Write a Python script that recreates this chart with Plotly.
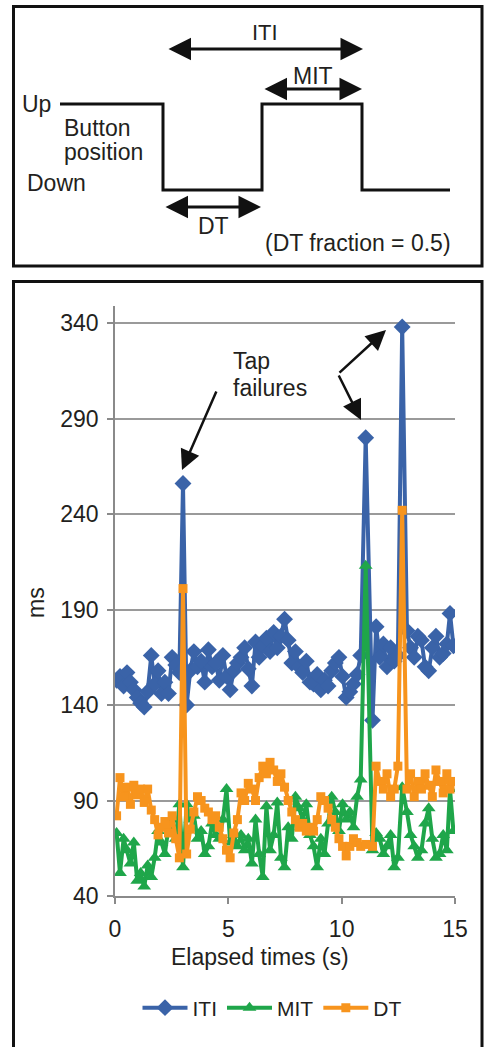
import plotly.graph_objects as go

# ---------------- data ----------------
time_s = [0.07, 0.22, 0.38, 0.53, 0.68, 0.83, 0.98, 1.13, 1.29, 1.44, 1.60, 1.75, 1.90, 2.05, 2.20, 2.36, 2.52, 2.68, 2.84,
          3.00,
          3.16, 3.32, 3.48, 3.64, 3.80, 3.96, 4.12, 4.28, 4.44, 4.60, 4.76, 4.92, 5.08, 5.24, 5.40, 5.56, 5.72, 5.88, 6.04, 6.20,
          6.36, 6.52, 6.68, 6.84, 7.00, 7.16, 7.32, 7.48, 7.64, 7.80, 7.96, 8.12, 8.28, 8.44, 8.60, 8.76, 8.92, 9.08, 9.24, 9.40,
          9.56, 9.72, 9.88, 10.04, 10.20, 10.36, 10.52, 10.68, 10.84,
          11.06,
          11.36, 11.52, 11.68, 11.84, 12.00, 12.16, 12.32, 12.48,
          12.67,
          12.88, 13.04, 13.20, 13.36, 13.52, 13.68, 13.84, 14.00, 14.16, 14.32, 14.48, 14.64, 14.78, 14.93]

iti_ms = [153, 155, 150, 157, 152, 148, 144, 141, 139, 147, 166, 151, 158, 146, 152, 146, 165, 161, 157,
          256,
          140, 158, 168, 160, 163, 152, 169, 160, 162, 153, 166, 155, 148, 158, 162, 165, 170, 159, 150, 173,
          165, 171, 175, 168, 178, 170, 176, 185, 174, 162, 168, 160, 157, 163, 152, 151, 156, 148, 153, 150,
          158, 162, 165, 155, 144, 147, 151, 156, 166,
          280,
          132, 181, 165, 172, 160, 170, 163, 166,
          338,
          179, 170, 165, 176, 174, 160, 158, 170, 176, 165, 167, 172, 188, 171]

mit_ms = [73, 52, 70, 64, 57, 68, 48, 52, 45, 56, 50, 60, 74, 68, 62, 76, 80, 70, 88,
          55,
          88, 80, 82, 70, 74, 62, 66, 78, 72, 70, 80, 96, 68, 72, 66, 72, 64, 70, 57, 80,
          62, 50, 87, 64, 72, 89, 60, 55, 76, 70, 92, 86, 80, 88, 72, 66, 55, 70, 62, 78,
          92, 84, 74, 88, 80, 84, 76, 92, 101,
          213,
          64, 73, 70, 62, 66, 72, 55, 60,
          97,
          84, 72, 66, 60, 64, 78, 86, 70, 60, 62, 72, 64, 96, 74]

dt_ms = [82, 102, 92, 97, 88, 98, 93, 96, 89, 96, 85, 80, 72, 76, 79, 73, 82, 70, 60,
         201,
         62, 75, 84, 92, 90, 86, 84, 80, 82, 76, 70, 64, 60, 73, 80, 94, 90, 99, 96, 90,
         102, 108, 104, 110, 106, 100, 104, 97, 90, 84, 80, 76, 78, 74, 76, 74, 80, 92, 90, 86,
         80, 76, 70, 66, 61, 66, 70, 68, 66,
         67,
         66, 108, 100, 96, 104, 92, 96, 108,
         242,
         96, 104, 92, 100, 96, 104, 98, 92, 106, 100, 94, 104, 96, 100]

y_ticks = [40, 90, 140, 190, 240, 290, 340]
x_ticks = [0, 5, 10, 15]
series_names = ["ITI", "MIT", "DT"]

# ---------------- figure ----------------
W, H = 485, 1047
FONT = "Liberation Sans, Arial, sans-serif"
TXT = "#231f20"
BLUE = "#3a63a8"
GREEN = "#1fa64a"
ORANGE = "#f7941d"


def px(x):
    return x / W


def py(y):
    return 1 - y / H


fig = go.Figure()
fig.add_trace(go.Scatter(x=time_s, y=iti_ms, name=series_names[0], mode="lines+markers",
                         line=dict(color=BLUE, width=4),
                         marker=dict(symbol="diamond", size=13, color=BLUE)))
fig.add_trace(go.Scatter(x=time_s, y=mit_ms, name=series_names[1], mode="lines+markers",
                         line=dict(color=GREEN, width=4),
                         marker=dict(symbol="triangle-up", size=12, color=GREEN)))
fig.add_trace(go.Scatter(x=time_s, y=dt_ms, name=series_names[2], mode="lines+markers",
                         line=dict(color=ORANGE, width=4),
                         marker=dict(symbol="square", size=9, color=ORANGE)))

x0_px, x1_px = 115, 455
ybot_px, ytop_px = 896, 306
fig.update_layout(
    width=W, height=H, margin=dict(l=0, r=0, t=0, b=0, autoexpand=False),
    paper_bgcolor="white", plot_bgcolor="white",
    font=dict(family=FONT, size=23, color=TXT),
    showlegend=True,
    legend=dict(orientation="h", x=px(272), y=py(1008), xanchor="center", yanchor="middle",
                font=dict(size=21, color=TXT), itemwidth=45, tracegroupgap=0,
                bgcolor="rgba(0,0,0,0)"),
    xaxis=dict(domain=[px(x0_px), px(x1_px)], range=[0, 15], tickvals=x_ticks,
               showgrid=False, zeroline=False, showline=True, linecolor="#8a8a8a", linewidth=1.5,
               ticks="outside", ticklen=6, tickcolor="#8a8a8a", tickwidth=1.5,
               tickfont=dict(size=23, color=TXT), ticklabelstandoff=6),
    yaxis=dict(domain=[py(ybot_px), py(ytop_px)], range=[40, 349], tickvals=y_ticks,
               showgrid=True, gridcolor="#9a9a9a", gridwidth=1.5, zeroline=False,
               showline=True, linecolor="#8a8a8a", linewidth=1.5,
               ticks="outside", ticklen=6, tickcolor="#8a8a8a", tickwidth=1.5,
               tickfont=dict(size=23, color=TXT), ticklabelstandoff=4),
)

shapes = []
# panel borders
shapes.append(dict(type="rect", xref="paper", yref="paper", x0=px(13.5), x1=px(482), y0=py(6.5), y1=py(266),
                   line=dict(color="#111", width=3)))
shapes.append(dict(type="rect", xref="paper", yref="paper", x0=px(13.5), x1=px(482), y0=py(281.5), y1=py(1060),
                   line=dict(color="#111", width=3)))
# button-position waveform (schematic)
wave = [(60, 104), (163, 104), (163, 190), (262, 190), (262, 104), (362, 104), (362, 190), (450, 190)]
path = "M " + " L ".join(f"{px(a):.5f},{py(b):.5f}" for a, b in wave)
shapes.append(dict(type="path", xref="paper", yref="paper", path=path, line=dict(color="#111", width=3)))
fig.update_layout(shapes=shapes)

ann = []


def darrow(xa, xb, y):
    ann.append(dict(xref="paper", yref="paper", x=px(xb), y=py(y), ax=xa - xb, ay=0,
                    text="", showarrow=True, arrowhead=2, startarrowhead=2, arrowside="end+start",
                    arrowsize=1.5, startarrowsize=1.5, arrowwidth=3, arrowcolor="#111",
                    standoff=0, startstandoff=0))


def arrow(xt, yt, xh, yh):
    ann.append(dict(xref="paper", yref="paper", x=px(xh), y=py(yh), ax=xt - xh, ay=yt - yh,
                    text="", showarrow=True, arrowhead=2, arrowsize=1.6, arrowwidth=2.5,
                    arrowcolor="#111", standoff=0))


def label(x, y, text, anchor="left", size=23, angle=0):
    ann.append(dict(xref="paper", yref="paper", x=px(x), y=py(y), text=text, showarrow=False,
                    xanchor=anchor, yanchor="middle", textangle=angle,
                    font=dict(size=size, color=TXT, family=FONT)))


darrow(167, 363, 49)
darrow(263, 362, 89)
darrow(164, 261, 207)
label(265, 32, "ITI", "center", 22)
label(313, 76, "MIT", "center")
label(213, 226, "DT", "center")
label(20, 104, "Up")
label(62, 128, "Button")
label(62, 152, "position")
label(25, 183, "Down")
label(453, 243, "(DT fraction = 0.5)", "right")

# tap failure arrows
arrow(217, 390, 182, 470)
arrow(338, 374, 386, 330)
arrow(338, 374, 361, 420)
label(231, 361, "Tap")
label(231, 388, "failures")

# axis titles
label(260, 957, "Elapsed times (s)", "center", 23)
label(36, 603, "ms", "center", 23, -90)

fig.update_layout(annotations=ann)
fig.write_html("out.html", config={"displayModeBar": False},
               post_script="document.body.style.margin='0';document.body.style.overflow='hidden';")
